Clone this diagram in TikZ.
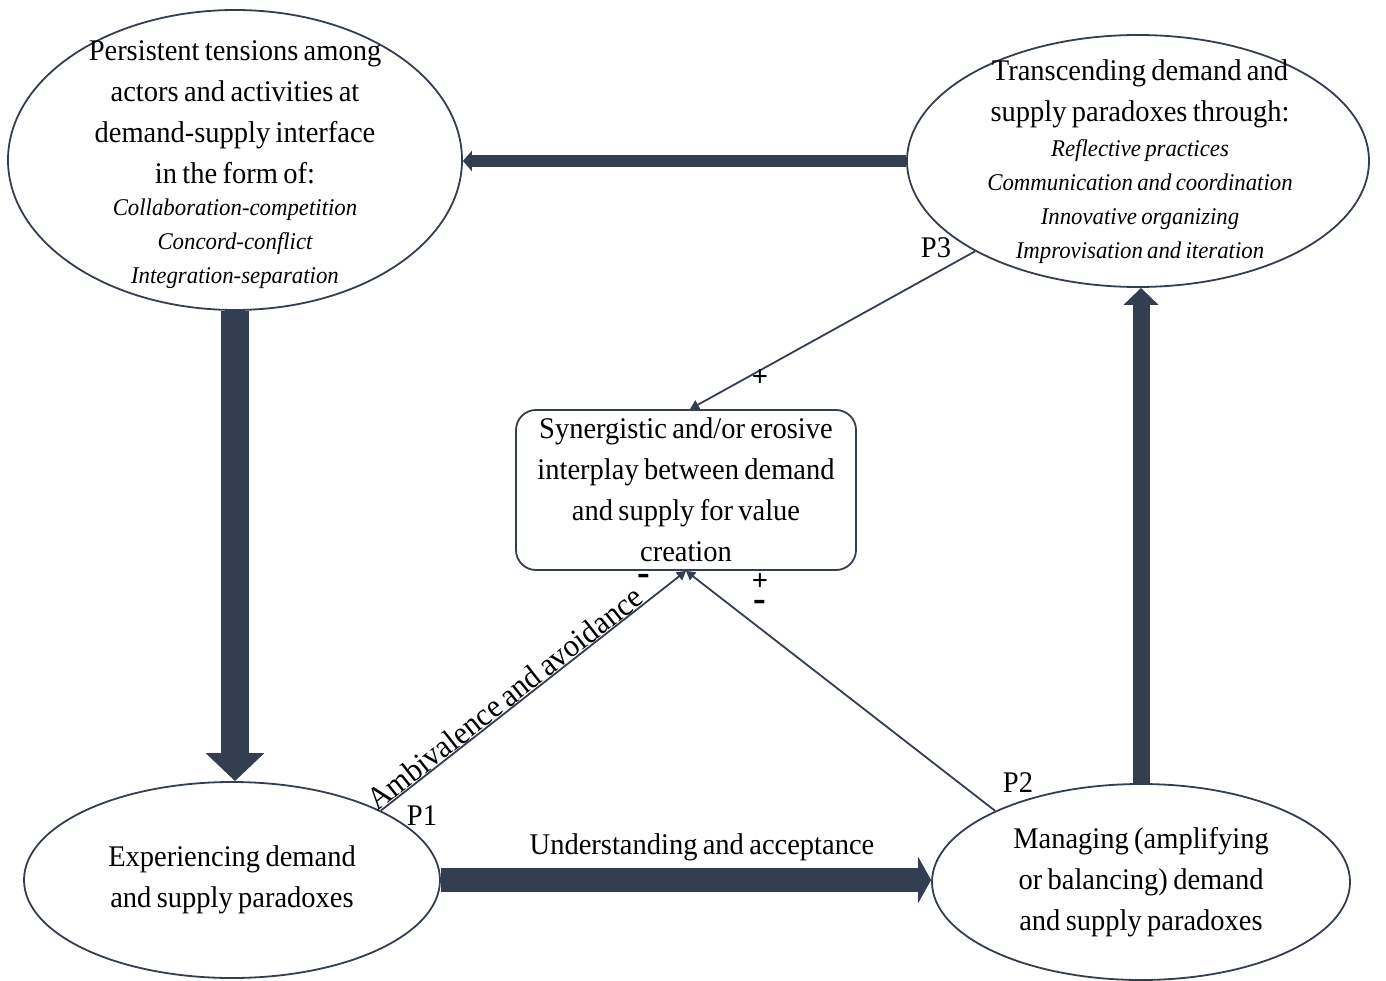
\documentclass[tikz,border=0pt]{standalone}
\usepackage{fontspec}
\setmainfont{Liberation Serif}[FakeStretch=0.95,WordSpace=0.75]
\usetikzlibrary{arrows.meta,shapes.geometric}
\definecolor{dk}{HTML}{333F50}
\begin{document}
\begin{tikzpicture}[x=1pt,y=-1pt,
  ell/.style={draw=dk, line width=1.8pt, ellipse, inner sep=0pt},
  txt/.style={align=center, font=\fontsize{30}{41}\selectfont, inner sep=0pt, text=black},
  itx/.style={align=center, font=\fontsize{24}{34}\selectfont\itshape, inner sep=0pt, text=black},
  lbl/.style={font=\fontsize{30}{36}\selectfont, inner sep=0pt, text=black},
  sgn/.style={font=\fontsize{30}{30}\selectfont\bfseries, inner sep=0pt, text=black},
  neg/.style={font=\fontsize{40}{40}\selectfont\bfseries, inner sep=0pt, text=black},
  thin/.style={draw=dk, line width=1.8pt, -{Triangle[width=10pt,length=9pt]}},
  thick/.style={draw=dk}
]
\useasboundingbox (0,0) rectangle (1386,981);
% ellipses
\node[ell, minimum width=454pt, minimum height=300pt] (tl) at (235,160) {};
\node[ell, minimum width=462pt, minimum height=252pt] (tr) at (1138,161) {};
\node[ell, minimum width=416pt, minimum height=196pt, txt] (bl) at (232,880) {Experiencing demand\\and supply paradoxes};
\node[ell, minimum width=418pt, minimum height=196pt, txt] (br) at (1141,882) {Managing (amplifying\\or balancing) demand\\and supply paradoxes};
% texts in upper ellipses
\node[txt] (tlt) at (235,112) {Persistent tensions among\\actors and activities at\\demand-supply interface\\in the form of:};
\node[itx] (tli) at (235,244) {Collaboration-competition\\Concord-conflict\\Integration-separation};
\node[txt] (trt) at (1140,94) {Transcending demand and\\supply paradoxes through:};
\node[itx] (tri) at (1140,202) {Reflective practices\\Communication and coordination\\Innovative organizing\\Improvisation and iteration};
% central box
\node[draw=dk, line width=1.8pt, rounded corners=20pt, minimum width=340pt, minimum height=160pt, txt] (syn) at (686,490) {Synergistic and/or erosive\\interplay between demand\\and supply for value\\creation};
% thick arrows
\draw[thick, line width=28pt, -{Triangle[width=57pt,length=28pt]}] (tl.south) -- (tl.south |- bl.north);
\draw[thick, line width=12pt, -{Triangle[width=20pt,length=9pt]}] (tr.west) -- (tl.east |- tr.west);
\draw[thick, line width=17pt, -{Triangle[width=34pt,length=17pt]}] (br.north) -- (br.north |- tr.south);
\draw[thick, line width=24pt, -{Triangle[width=46pt,length=13pt]}] (bl.east) -- (br.west |- bl.east);
% thin arrows
\draw[thin] (tr.209) -- ([xshift=4pt]syn.north);
\draw[thin] (bl.25) -- node[pos=0.43, sloped, above, inner sep=5pt, lbl, font=\fontsize{32}{36}\selectfont] (amb) {Ambivalence and avoidance} (syn.south);
\draw[thin] (br.154.7) -- (syn.south);
% labels
\node[lbl] (p3) at (936,248) {P3};
\node[lbl] (p1) at (422,816) {P1};
\node[lbl] (p2) at (1018,783) {P2};
\node[lbl] (ua) at (702,847) {Understanding and acceptance};
\node[sgn] (s1) at (760,378) {+};
\node[neg] (s2) at (644,580) {-};
\node[sgn] (s3) at (760,582) {+};
\node[neg] (s4) at (760,606) {-};
\end{tikzpicture}
\end{document}
